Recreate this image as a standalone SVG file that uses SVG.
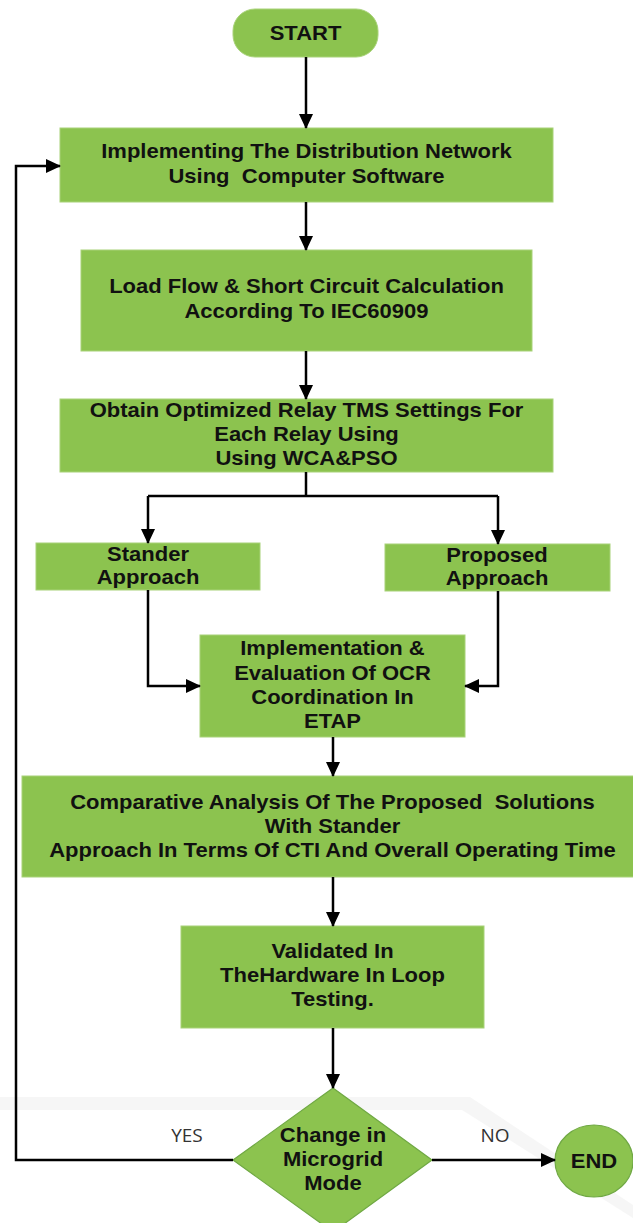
<svg xmlns="http://www.w3.org/2000/svg" width="633" height="1223" viewBox="0 0 633 1223">
<defs>
<style>
.box{fill:#8CC34F;stroke:#A8D279;stroke-width:1}
.shape{fill:#8CC34F;stroke:#6FA843;stroke-width:1.2;stroke-linejoin:round}
.t{font-family:"Liberation Sans",Arial,sans-serif;font-weight:bold;font-size:20px;fill:#111;text-anchor:middle}
.lbl{font-family:"Open Sans","Liberation Sans",sans-serif;font-size:19px;fill:#333;text-anchor:middle}
.c{fill:none;stroke:#000;stroke-width:2.5}
</style>
<marker id="ah" markerUnits="userSpaceOnUse" markerWidth="16" markerHeight="14" refX="14" refY="7" orient="auto">
<path d="M0,0 L15,7 L0,14 z" fill="#000"/>
</marker>
</defs>
<rect width="633" height="1223" fill="#fff"/>
<g id="bg-bands" fill="#ececec" opacity="0.45">
<path d="M0,1097 H470 L633,1205 V1218 L462,1110 H0 z"/>
</g>
<g id="start">
<rect x="233" y="9" width="145" height="48" rx="22" class="box"/>
<text class="t" transform="matrix(1.1,0,0,1,305.5,0)" x="0" y="40">START</text>
</g>
<g id="n1">
<rect x="60" y="128" width="493" height="74" class="box"/>
<g transform="matrix(1.1,0,0,1,306.5,0)"><text class="t" x="0" y="158">Implementing The Distribution Network</text><text class="t" x="0" y="183" xml:space="preserve">Using  Computer Software</text></g>
</g>
<g id="n2">
<rect x="81" y="250" width="451" height="101" class="box"/>
<g transform="matrix(1.1,0,0,1,306.5,0)"><text class="t" x="0" y="293">Load Flow &amp; Short Circuit Calculation</text><text class="t" x="0" y="318">According To IEC60909</text></g>
</g>
<g id="n3">
<rect x="60" y="399" width="493" height="73" class="box"/>
<g transform="matrix(1.1,0,0,1,306.5,0)"><text class="t" x="0" y="417">Obtain Optimized Relay TMS Settings For</text><text class="t" x="0" y="441">Each Relay Using</text><text class="t" x="0" y="465">Using WCA&amp;PSO</text></g>
</g>
<g id="stander">
<rect x="36" y="543" width="224" height="47" class="box"/>
<g transform="matrix(1.1,0,0,1,148,0)"><text class="t" x="0" y="561">Stander</text><text class="t" x="0" y="584">Approach</text></g>
</g>
<g id="proposed">
<rect x="385" y="544" width="225" height="47" class="box"/>
<g transform="matrix(1.1,0,0,1,497,0)"><text class="t" x="0" y="562">Proposed</text><text class="t" x="0" y="585">Approach</text></g>
</g>
<g id="n4">
<rect x="200" y="635" width="265" height="102" class="box"/>
<g transform="matrix(1.1,0,0,1,332.5,0)"><text class="t" x="0" y="655">Implementation &amp;</text><text class="t" x="0" y="680">Evaluation Of OCR</text><text class="t" x="0" y="704">Coordination In</text><text class="t" x="0" y="728">ETAP</text></g>
</g>
<g id="n5">
<rect x="22" y="776" width="620" height="101" class="box"/>
<g transform="matrix(1.1,0,0,1,332.5,0)"><text class="t" x="0" y="809" xml:space="preserve">Comparative Analysis Of The Proposed  Solutions</text><text class="t" x="0" y="833">With Stander</text><text class="t" x="0" y="857">Approach In Terms Of CTI And Overall Operating Time</text></g>
</g>
<g id="n6">
<rect x="181" y="926" width="303" height="102" class="box"/>
<g transform="matrix(1.1,0,0,1,332.5,0)"><text class="t" x="0" y="958">Validated In</text><text class="t" x="0" y="982">TheHardware In Loop</text><text class="t" x="0" y="1006">Testing.</text></g>
</g>
<g id="decision">
<polygon points="333,1088 432,1160 333,1232 233,1160" class="shape"/>
<g transform="matrix(1.1,0,0,1,333,0)"><text class="t" x="0" y="1142">Change in</text><text class="t" x="0" y="1166">Microgrid</text><text class="t" x="0" y="1190">Mode</text></g>
</g>
<g id="end">
<ellipse cx="594" cy="1161" rx="39" ry="36" class="shape"/>
<text class="t" transform="matrix(1.1,0,0,1,594,0)" x="0" y="1168">END</text>
</g>
<g id="connectors">
<path class="c" d="M306,57 V128" marker-end="url(#ah)"/>
<path class="c" d="M306,202 V250" marker-end="url(#ah)"/>
<path class="c" d="M306,351 V399" marker-end="url(#ah)"/>
<path class="c" d="M306,472 V496"/>
<path class="c" d="M148,496 H498"/>
<path class="c" d="M148,496 V543" marker-end="url(#ah)"/>
<path class="c" d="M498,496 V544" marker-end="url(#ah)"/>
<path class="c" d="M148,590 V686 H200" marker-end="url(#ah)"/>
<path class="c" d="M498,591 V686 H465" marker-end="url(#ah)"/>
<path class="c" d="M333,737 V776" marker-end="url(#ah)"/>
<path class="c" d="M333,877 V926" marker-end="url(#ah)"/>
<path class="c" d="M333,1028 V1088" marker-end="url(#ah)"/>
<path class="c" d="M233,1160 H16 V166 H60" marker-end="url(#ah)"/>
<path class="c" d="M432,1160 H555" marker-end="url(#ah)"/>
<text class="lbl" x="187" y="1142">YES</text>
<text class="lbl" x="495" y="1142">NO</text>
</g>
</svg>
